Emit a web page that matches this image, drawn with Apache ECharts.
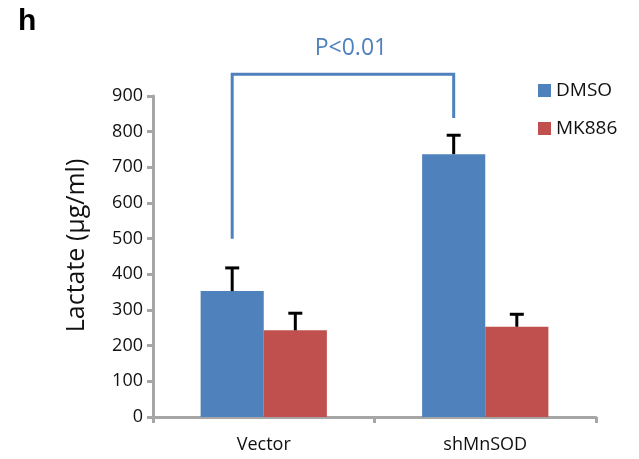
<!DOCTYPE html>
<html>
<head>
<meta charset="utf-8">
<script src="https://cdn.jsdelivr.net/npm/echarts@6/dist/echarts.min.js"></script>
<style>
  html, body { margin: 0; padding: 0; background: #fff; }
  #chart { width: 639px; height: 459px; }
</style>
</head>
<body>
<div id="chart"></div>
<script>
// data
var categories = ["Vector", "shMnSOD"];
var dmso = [353, 737];
var mk886 = [243, 253];
var dmsoErrTop = [418, 790];
var mk886ErrTop = [291, 288];
var yTicks = [0, 100, 200, 300, 400, 500, 600, 700, 800, 900];
// significance bracket: left foot, right foot, top (in y units)
var bracketFeet = [500, 838];
var bracketTop = 961;
var pLabel = "P<0.01";

var blue = "#4F81BD";
var red = "#C0504D";
var barFrac = 0.285; // bar width as a fraction of the band

// error bars (upper half only, like the original)
function errorSeries(vals, tops, side) {
  var data = vals.map(function (v, i) { return [i, v, tops[i]]; });
  return {
    type: "custom",
    data: data,
    z: 5,
    clip: false,
    renderItem: function (params, api) {
      var band = api.size([1, 0])[0];
      var off = side * band * barFrac / 2;
      var p0 = api.coord([api.value(0), api.value(1)]);
      var p1 = api.coord([api.value(0), api.value(2)]);
      var x = p0[0] + off;
      var style = { stroke: "#000", lineWidth: 3 };
      return {
        type: "group",
        children: [
          { type: "line", shape: { x1: x, y1: p0[1], x2: x, y2: p1[1] }, style: style },
          { type: "line", shape: { x1: x - 7, y1: p1[1], x2: x + 7, y2: p1[1] }, style: style }
        ]
      };
    }
  };
}

var chart = echarts.init(document.getElementById("chart"));
chart.setOption({
  animation: false,
  textStyle: { fontFamily: "Open Sans" },
  title: {
    text: "h",
    left: 13,
    top: 2,
    textStyle: { fontSize: 30, fontWeight: "bold", color: "#000", fontFamily: "Liberation Sans" }
  },
  legend: {
    orient: "vertical",
    left: 533,
    top: 76,
    itemWidth: 13,
    itemHeight: 13,
    itemGap: 19,
    icon: "rect",
    textStyle: { fontSize: 19, color: "#111" },
    data: ["DMSO", "MK886"]
  },
  grid: { left: 153, right: 43, top: 96, bottom: 42 },
  xAxis: {
    type: "category",
    data: categories,
    axisLine: { lineStyle: { color: "#a6a6a6", width: 3 } },
    axisTick: { show: true, length: 6, lineStyle: { color: "#a6a6a6", width: 3 } },
    axisLabel: { fontSize: 18, color: "#111", margin: 19 }
  },
  yAxis: {
    type: "value",
    min: yTicks[0],
    max: yTicks[yTicks.length - 1],
    interval: 100,
    name: "Lactate (μg/ml)",
    nameLocation: "middle",
    nameGap: 64,
    nameTextStyle: { fontSize: 25, color: "#111", padding: [0, 0, 0, 22] },
    axisLine: { show: true, lineStyle: { color: "#a6a6a6", width: 3 } },
    axisTick: { show: true, length: 6, lineStyle: { color: "#a6a6a6", width: 3 } },
    axisLabel: { fontSize: 18, color: "#111", margin: 10 },
    splitLine: { show: false }
  },
  series: [
    {
      name: "DMSO",
      type: "bar",
      data: dmso,
      barWidth: (barFrac * 100) + "%",
      barGap: "0%",
      itemStyle: { color: blue }
    },
    {
      name: "MK886",
      type: "bar",
      data: mk886,
      barWidth: (barFrac * 100) + "%",
      itemStyle: { color: red }
    },
    errorSeries(dmso, dmsoErrTop, -1),
    errorSeries(mk886, mk886ErrTop, 1),
    {
      type: "custom",
      data: [[0, bracketFeet[0]], [1, bracketFeet[1]]],
      clip: false,
      z: 6,
      renderItem: function (params, api) {
        if (params.dataIndex !== 0) return null;
        var band = api.size([1, 0])[0];
        var off = -band * barFrac / 2;
        var a = api.coord([0, bracketFeet[0]]);
        var b = api.coord([1, bracketFeet[1]]);
        var t = api.coord([0, bracketTop])[1];
        var xa = a[0] + off, xb = b[0] + off;
        return {
          type: "group",
          children: [
            {
              type: "polyline",
              shape: { points: [[xa, a[1]], [xa, t], [xb, t], [xb, b[1]]] },
              style: { stroke: blue, lineWidth: 3, fill: null }
            },
            {
              type: "text",
              x: (xa + xb) / 2 + 8,
              y: t - 14,
              style: {
                text: pLabel,
                fill: "#4F81BD",
                font: "23px 'Open Sans'",
                align: "center",
                verticalAlign: "bottom"
              }
            }
          ]
        };
      }
    }
  ]
});
</script>
</body>
</html>
